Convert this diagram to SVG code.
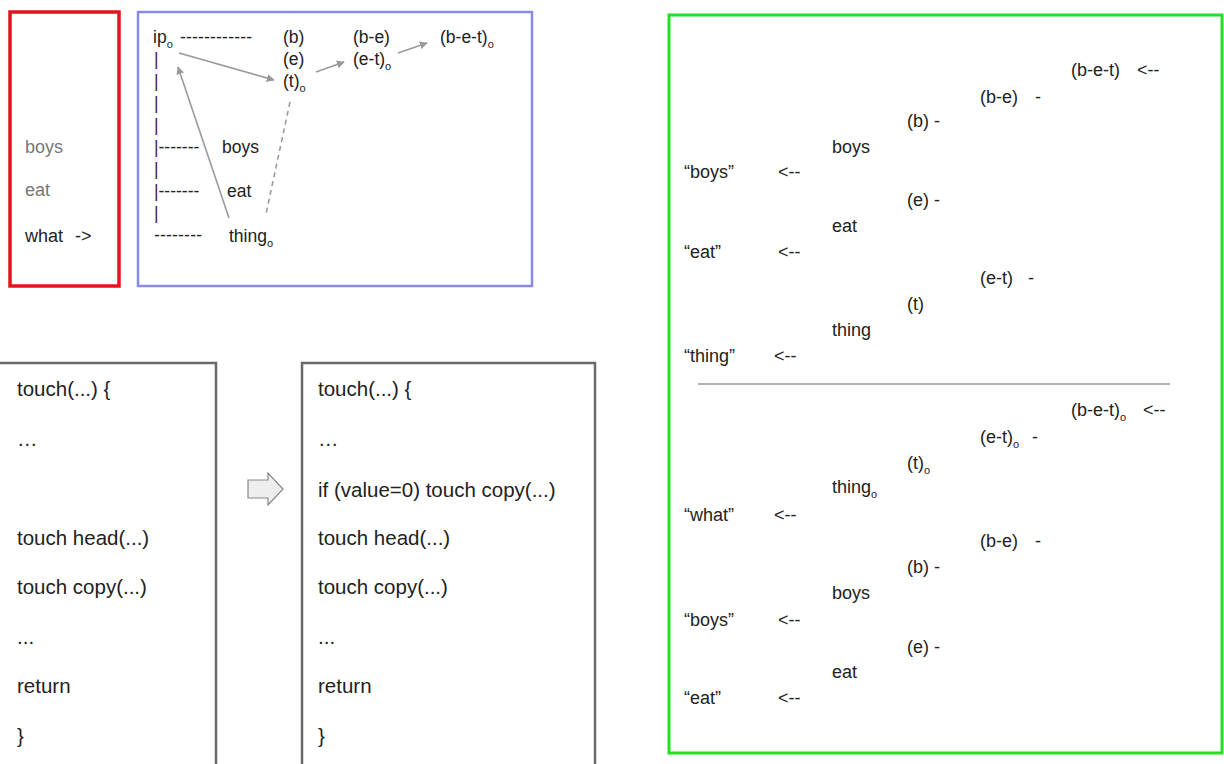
<svg xmlns="http://www.w3.org/2000/svg" width="1224" height="764" viewBox="0 0 1224 764">
<defs>
<style>
text{font-family:"Liberation Sans",Arial,sans-serif;fill:#222;}
.s16{font-size:17.5px;}
.s17{font-size:18px;}
.code{font-size:20.5px;}
.grey{fill:#777;}
.bar{fill:#3a2a2a;}
.sub{font-size:11px;}
.conn{stroke:#9a9a9a;stroke-width:1.6;fill:none;}
</style>
<marker id="ah" viewBox="0 0 10 10" refX="9" refY="5" markerWidth="8" markerHeight="8" markerUnits="userSpaceOnUse" orient="auto">
<path d="M0,0 L10,5 L0,10 z" fill="#9a9a9a"/>
</marker>
</defs>
<rect width="1224" height="764" fill="#fff"/>

<g id="red-box">
<rect x="10" y="12" width="109" height="274" fill="none" stroke="#e3141c" stroke-width="3.5"/>
<text class="s17 grey" x="25" y="153">boys</text>
<text class="s17 grey" x="25" y="196">eat</text>
<text class="s17" x="25" y="242">what</text>
<text class="s17" x="75" y="242">-&gt;</text>
</g>

<g id="blue-box">
<rect x="138" y="12" width="394" height="274" fill="none" stroke="#8a8ae6" stroke-width="2.5"/>
<text class="s16" x="153" y="43">ip<tspan class="sub" dy="5">o</tspan></text>
<text class="s16" x="180" y="43" textLength="72" lengthAdjust="spacing">------------</text>
<text class="s16" x="283" y="43">(b)</text>
<text class="s16" x="283" y="65">(e)</text>
<text class="s16" x="283" y="87">(t)<tspan class="sub" dy="5">o</tspan></text>
<text class="s16" x="353" y="43">(b-e)</text>
<text class="s16" x="353" y="65">(e-t)<tspan class="sub" dy="5">o</tspan></text>
<text class="s16" x="440" y="43">(b-e-t)<tspan class="sub" dy="5">o</tspan></text>
<text class="s16 bar" x="154" y="65">|</text>
<text class="s16 bar" x="154" y="87">|</text>
<text class="s16 bar" x="154" y="109">|</text>
<text class="s16 bar" x="154" y="131">|</text>
<text class="s16 bar" x="154" y="153">|<tspan fill="#222">-------</tspan></text>
<text class="s16 bar" x="154" y="175">|</text>
<text class="s16 bar" x="154" y="197">|<tspan fill="#222">-------</tspan></text>
<text class="s16 bar" x="154" y="219">|</text>
<text class="s16" x="154" y="241" textLength="48" lengthAdjust="spacing">--------</text>
<text class="s16" x="222" y="153">boys</text>
<text class="s16" x="227" y="197">eat</text>
<text class="s16" x="229" y="242">thing<tspan class="sub" dy="5">o</tspan></text>
</g>

<g id="connectors">
<line class="conn" x1="179" y1="53" x2="274" y2="80" marker-end="url(#ah)"/>
<line class="conn" x1="229" y1="218" x2="178" y2="67" marker-end="url(#ah)"/>
<line class="conn" x1="316" y1="72" x2="344" y2="62" marker-end="url(#ah)"/>
<line class="conn" x1="398" y1="53" x2="427" y2="43" marker-end="url(#ah)"/>
<line class="conn" x1="290" y1="102" x2="266" y2="214" stroke-dasharray="5,4"/>
</g>

<g id="code-before">
<rect x="-2" y="363" width="218" height="410" fill="none" stroke="#6a6a6a" stroke-width="2.5"/>
<text class="code" x="17" y="396">touch(...) {</text>
<text class="code" x="17" y="446">…</text>
<text class="code" x="17" y="545">touch head(...)</text>
<text class="code" x="17" y="594">touch copy(...)</text>
<text class="code" x="17" y="644">...</text>
<text class="code" x="17" y="693">return</text>
<text class="code" x="17" y="743">}</text>
</g>

<g id="hollow-arrow">
<polygon points="248,480 268,480 268,473 283,489 268,505 268,498 248,498" fill="#eeeeee" stroke="#888" stroke-width="1.2"/>
</g>

<g id="code-after">
<rect x="302" y="363" width="293" height="410" fill="none" stroke="#6a6a6a" stroke-width="2.5"/>
<text class="code" x="318" y="396">touch(...) {</text>
<text class="code" x="318" y="446">…</text>
<text class="code" x="318" y="497">if (value=0) touch copy(...)</text>
<text class="code" x="318" y="545">touch head(...)</text>
<text class="code" x="318" y="594">touch copy(...)</text>
<text class="code" x="318" y="644">...</text>
<text class="code" x="318" y="693">return</text>
<text class="code" x="318" y="743">}</text>
</g>

<g id="green-box">
<rect x="669" y="15" width="553" height="738" fill="none" stroke="#22e022" stroke-width="3"/>
<text class="s17" x="1071" y="76">(b-e-t)</text><text class="s17" x="1137" y="76">&lt;--</text>
<text class="s17" x="980" y="103">(b-e)</text><text class="s17" x="1035" y="103">-</text>
<text class="s17" x="907" y="127">(b) -</text>
<text class="s17" x="832" y="153">boys</text>
<text class="s17" x="684" y="178">“boys”</text><text class="s17" x="778" y="178">&lt;--</text>
<text class="s17" x="907" y="206">(e) -</text>
<text class="s17" x="832" y="232">eat</text>
<text class="s17" x="684" y="258">“eat”</text><text class="s17" x="778" y="258">&lt;--</text>
<text class="s17" x="980" y="284">(e-t)</text><text class="s17" x="1028" y="284">-</text>
<text class="s17" x="907" y="310">(t)</text>
<text class="s17" x="832" y="336">thing</text>
<text class="s17" x="684" y="362">“thing”</text><text class="s17" x="774" y="362">&lt;--</text>
<line x1="698" y1="384" x2="1170" y2="384" stroke="#666" stroke-width="1.2"/>
<text class="s17" x="1071" y="416">(b-e-t)<tspan class="sub" dy="5">o</tspan></text><text class="s17" x="1143" y="416">&lt;--</text>
<text class="s17" x="980" y="443">(e-t)<tspan class="sub" dy="5">o</tspan></text><text class="s17" x="1032" y="443">-</text>
<text class="s17" x="907" y="469">(t)<tspan class="sub" dy="5">o</tspan></text>
<text class="s17" x="832" y="493">thing<tspan class="sub" dy="5">o</tspan></text>
<text class="s17" x="684" y="521">“what”</text><text class="s17" x="774" y="521">&lt;--</text>
<text class="s17" x="980" y="547">(b-e)</text><text class="s17" x="1035" y="547">-</text>
<text class="s17" x="907" y="573">(b) -</text>
<text class="s17" x="832" y="599">boys</text>
<text class="s17" x="684" y="626">“boys”</text><text class="s17" x="778" y="626">&lt;--</text>
<text class="s17" x="907" y="653">(e) -</text>
<text class="s17" x="832" y="678">eat</text>
<text class="s17" x="684" y="704">“eat”</text><text class="s17" x="778" y="704">&lt;--</text>
</g>
</svg>
